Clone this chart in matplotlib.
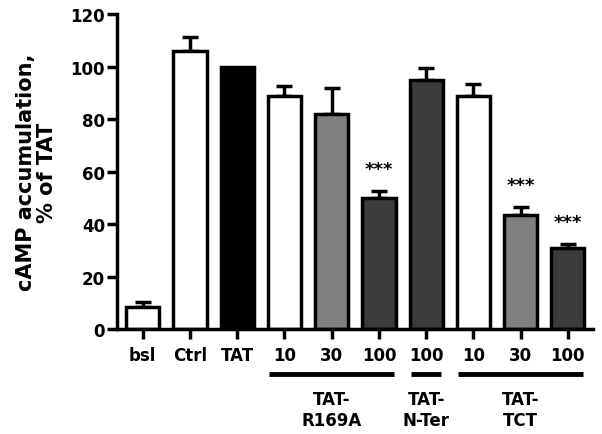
import matplotlib.pyplot as plt

# values
labels = ['bsl', 'Ctrl', 'TAT', '10', '30', '100', '100', '10', '30', '100']
values = [8.5, 106, 100, 89, 82, 50, 95, 89, 43.5, 31]
errors = [1.8, 5.5, 0, 3.5, 10, 2.5, 4.5, 4.5, 3, 1.5]
colors = ['white', 'white', 'black', 'white', '#7f7f7f', '#3c3c3c',
          '#3c3c3c', 'white', '#7f7f7f', '#3c3c3c']
stars = [5, 8, 9]  # bars marked ***

groups = ['TAT-\nR169A', 'TAT-\nN-Ter', 'TAT-\nTCT']
group_spans = [(3, 5), (6, 6), (7, 9)]

plt.rcParams['font.family'] = ['DejaVu Sans']
plt.rcParams['font.weight'] = 'bold'

fig = plt.figure(figsize=(6.02, 4.35), dpi=100)
ax = fig.add_axes([0.194, 0.241, 0.791, 0.724])

x = list(range(len(values)))
ax.bar(x, values, width=0.7, color=colors, edgecolor='black', linewidth=2.5, zorder=2)
for xi, v, e in zip(x, values, errors):
    if e > 0:
        ax.errorbar(xi, v, yerr=[[0], [e]], fmt='none', ecolor='black',
                    elinewidth=2.5, capsize=6, capthick=2.5, zorder=1)
for i in stars:
    ax.text(i, values[i] + errors[i] + 5, '***', ha='center', va='bottom',
            fontsize=13, fontweight='bold')

ax.set_xlim(-0.55, 9.53)
ax.set_ylim(0, 120)
ax.set_yticks([0, 20, 40, 60, 80, 100, 120])
ax.set_xticks(x)
ax.set_xticklabels(labels)
ax.spines['top'].set_visible(False)
ax.spines['right'].set_visible(False)
for s in ['left', 'bottom']:
    ax.spines[s].set_linewidth(2.5)
ax.tick_params(axis='both', width=2.5, length=7, labelsize=12)
ax.tick_params(axis='x', pad=5)
ax.tick_params(axis='y', pad=1.5)

ax.set_ylabel('cAMP accumulation,\n% of TAT', fontsize=15, fontweight='bold',
              linespacing=1.05)
ax.yaxis.set_label_coords(-0.125, 0.5)

for name, (a, b) in zip(groups, group_spans):
    ax.plot([a - 0.32, b + 0.32], [-17, -17], color='black', lw=3.5,
            clip_on=False, solid_capstyle='butt')
    ax.text((a + b) / 2, -23, name, ha='center', va='top', fontsize=12,
            fontweight='bold', linespacing=1.25)

fig.savefig('out.png', dpi=100)
